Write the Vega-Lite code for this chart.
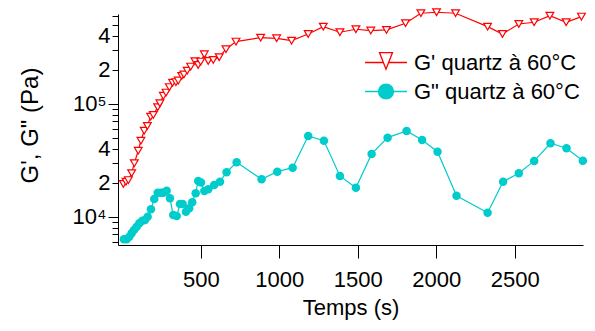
{
  "$schema": "https://vega.github.io/schema/vega-lite/v6.json",
  "width": 465,
  "height": 231,
  "autosize": {"type": "none"},
  "padding": {"left": 118, "top": 14, "right": 12, "bottom": 86},
  "background": "white",
  "config": {
    "view": {"stroke": null},
    "font": "Liberation Sans",
    "axis": {"grid": false, "domainColor": "black", "tickColor": "black", "labelColor": "black", "titleColor": "black", "labelFont": "Liberation Sans", "titleFont": "Liberation Sans", "titleFontWeight": "normal", "domainWidth": 1, "tickWidth": 1}
  },
  "data": {
    "values": [
      {"s": "G' quartz à 60°C", "t": 6, "G": 19600}, {"s": "G' quartz à 60°C", "t": 23, "G": 20500}, {"s": "G' quartz à 60°C", "t": 38, "G": 21200},
      {"s": "G' quartz à 60°C", "t": 59, "G": 24400}, {"s": "G' quartz à 60°C", "t": 76, "G": 29900}, {"s": "G' quartz à 60°C", "t": 101, "G": 38600},
      {"s": "G' quartz à 60°C", "t": 118, "G": 47300}, {"s": "G' quartz à 60°C", "t": 139, "G": 58000}, {"s": "G' quartz à 60°C", "t": 159, "G": 63800},
      {"s": "G' quartz à 60°C", "t": 180, "G": 77200}, {"s": "G' quartz à 60°C", "t": 197, "G": 80000}, {"s": "G' quartz à 60°C", "t": 225, "G": 93500},
      {"s": "G' quartz à 60°C", "t": 239, "G": 101500}, {"s": "G' quartz à 60°C", "t": 261, "G": 118000}, {"s": "G' quartz à 60°C", "t": 278, "G": 126000},
      {"s": "G' quartz à 60°C", "t": 299, "G": 141000}, {"s": "G' quartz à 60°C", "t": 320, "G": 154000}, {"s": "G' quartz à 60°C", "t": 341, "G": 156000},
      {"s": "G' quartz à 60°C", "t": 356, "G": 161000}, {"s": "G' quartz à 60°C", "t": 378, "G": 177000}, {"s": "G' quartz à 60°C", "t": 392, "G": 182000},
      {"s": "G' quartz à 60°C", "t": 413, "G": 197000}, {"s": "G' quartz à 60°C", "t": 435, "G": 214000}, {"s": "G' quartz à 60°C", "t": 462, "G": 239000},
      {"s": "G' quartz à 60°C", "t": 483, "G": 221000}, {"s": "G' quartz à 60°C", "t": 499, "G": 237000}, {"s": "G' quartz à 60°C", "t": 522, "G": 275000},
      {"s": "G' quartz à 60°C", "t": 547, "G": 240000}, {"s": "G' quartz à 60°C", "t": 579, "G": 245000}, {"s": "G' quartz à 60°C", "t": 617, "G": 259000},
      {"s": "G' quartz à 60°C", "t": 660, "G": 305000}, {"s": "G' quartz à 60°C", "t": 724, "G": 356000}, {"s": "G' quartz à 60°C", "t": 881, "G": 386000},
      {"s": "G' quartz à 60°C", "t": 983, "G": 381000}, {"s": "G' quartz à 60°C", "t": 1078, "G": 363000}, {"s": "G' quartz à 60°C", "t": 1184, "G": 416000},
      {"s": "G' quartz à 60°C", "t": 1280, "G": 483000}, {"s": "G' quartz à 60°C", "t": 1386, "G": 431000}, {"s": "G' quartz à 60°C", "t": 1488, "G": 458000},
      {"s": "G' quartz à 60°C", "t": 1583, "G": 446000}, {"s": "G' quartz à 60°C", "t": 1683, "G": 452000}, {"s": "G' quartz à 60°C", "t": 1804, "G": 518000},
      {"s": "G' quartz à 60°C", "t": 1902, "G": 635000}, {"s": "G' quartz à 60°C", "t": 2002, "G": 648000}, {"s": "G' quartz à 60°C", "t": 2123, "G": 635000},
      {"s": "G' quartz à 60°C", "t": 2327, "G": 483000}, {"s": "G' quartz à 60°C", "t": 2422, "G": 416000}, {"s": "G' quartz à 60°C", "t": 2526, "G": 510000},
      {"s": "G' quartz à 60°C", "t": 2624, "G": 528000}, {"s": "G' quartz à 60°C", "t": 2724, "G": 604000}, {"s": "G' quartz à 60°C", "t": 2828, "G": 528000},
      {"s": "G' quartz à 60°C", "t": 2925, "G": 593000},
      {"s": "G\" quartz à 60°C", "t": 10, "G": 6350}, {"s": "G\" quartz à 60°C", "t": 27, "G": 6350}, {"s": "G\" quartz à 60°C", "t": 44, "G": 6700},
      {"s": "G\" quartz à 60°C", "t": 59, "G": 7180}, {"s": "G\" quartz à 60°C", "t": 74, "G": 7670}, {"s": "G\" quartz à 60°C", "t": 91, "G": 8200},
      {"s": "G\" quartz à 60°C", "t": 108, "G": 8790}, {"s": "G\" quartz à 60°C", "t": 127, "G": 9270}, {"s": "G\" quartz à 60°C", "t": 144, "G": 9400},
      {"s": "G\" quartz à 60°C", "t": 161, "G": 10060}, {"s": "G\" quartz à 60°C", "t": 182, "G": 11700}, {"s": "G\" quartz à 60°C", "t": 203, "G": 14420},
      {"s": "G\" quartz à 60°C", "t": 225, "G": 16400}, {"s": "G\" quartz à 60°C", "t": 246, "G": 16400}, {"s": "G\" quartz à 60°C", "t": 261, "G": 16400},
      {"s": "G\" quartz à 60°C", "t": 282, "G": 17100}, {"s": "G\" quartz à 60°C", "t": 303, "G": 14630}, {"s": "G\" quartz à 60°C", "t": 324, "G": 10420},
      {"s": "G\" quartz à 60°C", "t": 346, "G": 10200}, {"s": "G\" quartz à 60°C", "t": 367, "G": 13030}, {"s": "G\" quartz à 60°C", "t": 384, "G": 13030},
      {"s": "G\" quartz à 60°C", "t": 405, "G": 11140}, {"s": "G\" quartz à 60°C", "t": 426, "G": 11940}, {"s": "G\" quartz à 60°C", "t": 445, "G": 13490},
      {"s": "G\" quartz à 60°C", "t": 467, "G": 16220}, {"s": "G\" quartz à 60°C", "t": 483, "G": 20840}, {"s": "G\" quartz à 60°C", "t": 501, "G": 20140},
      {"s": "G\" quartz à 60°C", "t": 522, "G": 16980}, {"s": "G\" quartz à 60°C", "t": 547, "G": 17580}, {"s": "G\" quartz à 60°C", "t": 585, "G": 19190},
      {"s": "G\" quartz à 60°C", "t": 622, "G": 20530}, {"s": "G\" quartz à 60°C", "t": 664, "G": 24870}, {"s": "G\" quartz à 60°C", "t": 728, "G": 30490},
      {"s": "G\" quartz à 60°C", "t": 887, "G": 21570}, {"s": "G\" quartz à 60°C", "t": 987, "G": 25180}, {"s": "G\" quartz à 60°C", "t": 1085, "G": 27310},
      {"s": "G\" quartz à 60°C", "t": 1184, "G": 52120}, {"s": "G\" quartz à 60°C", "t": 1284, "G": 47320}, {"s": "G\" quartz à 60°C", "t": 1386, "G": 23070},
      {"s": "G\" quartz à 60°C", "t": 1488, "G": 18150}, {"s": "G\" quartz à 60°C", "t": 1588, "G": 36150}, {"s": "G\" quartz à 60°C", "t": 1690, "G": 50350},
      {"s": "G\" quartz à 60°C", "t": 1811, "G": 57700}, {"s": "G\" quartz à 60°C", "t": 1910, "G": 47970}, {"s": "G\" quartz à 60°C", "t": 2008, "G": 37840},
      {"s": "G\" quartz à 60°C", "t": 2129, "G": 15420}, {"s": "G\" quartz à 60°C", "t": 2327, "G": 10920}, {"s": "G\" quartz à 60°C", "t": 2426, "G": 20530},
      {"s": "G\" quartz à 60°C", "t": 2526, "G": 24370}, {"s": "G\" quartz à 60°C", "t": 2624, "G": 31330}, {"s": "G\" quartz à 60°C", "t": 2728, "G": 44870},
      {"s": "G\" quartz à 60°C", "t": 2830, "G": 40550}, {"s": "G\" quartz à 60°C", "t": 2934, "G": 31480}
    ]
  },
  "encoding": {
    "x": {
      "field": "t", "type": "quantitative",
      "scale": {"domain": [-28, 2935], "nice": false, "zero": false},
      "axis": {"title": "Temps (s)", "values": [500, 1000, 1500, 2000, 2500], "format": "d", "tickSize": 13, "labelPadding": 11, "labelFontSize": 22, "titleFontSize": 22, "titlePadding": 7, "labelFlush": false}
    },
    "y": {
      "field": "G", "type": "quantitative",
      "scale": {"type": "log", "domain": [5650, 625000], "nice": false},
      "axis": {
        "title": "G', G\" (Pa)",
        "values": [6000, 7000, 8000, 9000, 10000, 20000, 30000, 40000, 50000, 60000, 70000, 80000, 90000, 100000, 200000, 300000, 400000, 500000, 600000],
        "labelExpr": "datum.value == 10000 ? '10⁴' : datum.value == 100000 ? '10⁵' : (datum.value == 20000 || datum.value == 200000) ? '2' : (datum.value == 40000 || datum.value == 400000) ? '4' : ''",
        "tickSize": {"condition": {"test": "datum.value == 10000 || datum.value == 100000", "value": 10}, "value": 6},
        "labelPadding": 2,
        "labelFontSize": 22,
        "titleFontSize": 24,
        "titleX": -76,
        "titleY": 111,
        "labelFlush": false,
        "labelOverlap": false
      }
    }
  },
  "layer": [
    {
      "mark": {"type": "line", "strokeWidth": 1.2},
      "encoding": {
        "color": {
          "field": "s", "type": "nominal",
          "scale": {"domain": ["G' quartz à 60°C", "G\" quartz à 60°C"], "range": ["#FF0000", "#00CCCC"]},
          "legend": {
            "title": null,
            "orient": "none",
            "legendX": 256.5,
            "legendY": 37,
            "padding": 0,
            "labelFont": "Liberation Sans",
            "labelFontSize": 22,
            "labelColor": "black",
            "labelOffset": 16.5,
            "labelLimit": 300,
            "symbolSize": 441,
            "rowPadding": 6,
            "encode": {
              "symbols": {
                "update": {
                  "shape": {"signal": "indexof(datum.value, '\"') >= 0 ? 'M-2,0H2M0.71,0A0.71,0.71,0,1,1,-0.71,0A0.71,0.71,0,1,1,0.71,0Z' : 'M-2,0H-0.25M0.25,0H2M-0.62,-0.95H0.62L0,0.63Z'"},
                  "fill": {"signal": "indexof(datum.value, '\"') >= 0 ? '#00CCCC' : 'transparent'"},
                  "stroke": {"signal": "indexof(datum.value, '\"') >= 0 ? '#00CCCC' : '#FF0000'"},
                  "strokeWidth": {"value": 1.3},
                  "size": {"value": 441},
                  "opacity": {"value": 1}
                }
              }
            }
          }
        }
      }
    },
    {
      "transform": [{"filter": "indexof(datum.s, '\"') < 0"}],
      "mark": {"type": "point", "shape": "triangle-down", "size": 60, "filled": true, "fill": "white", "stroke": "#FF0000", "strokeWidth": 1.2, "opacity": 1}
    },
    {
      "transform": [{"filter": "indexof(datum.s, '\"') >= 0"}],
      "mark": {"type": "point", "shape": "circle", "size": 72, "filled": true, "color": "#00CCCC", "opacity": 1}
    }
  ]
}
